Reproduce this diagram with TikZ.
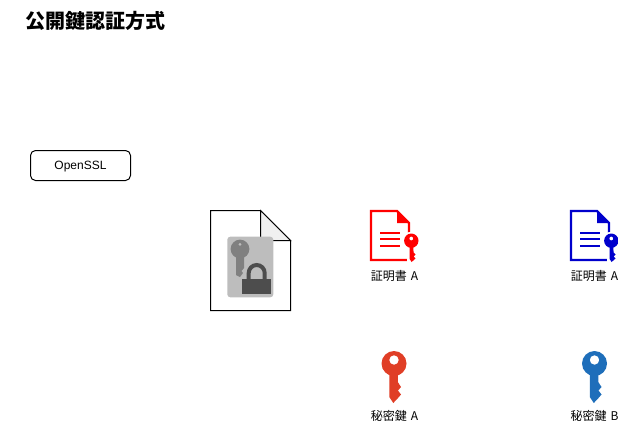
\documentclass[tikz,border=0pt]{standalone}
\usepackage{fontspec}
\setmainfont{Liberation Sans}
\newfontfamily\cjk{Noto Sans CJK JP}
\newfontfamily\cjklabel[WordSpace=1.5]{Noto Sans CJK JP}
\usepackage{xcolor}
\definecolor{keyred}{RGB}{224,62,38}
\definecolor{keyblue}{RGB}{30,110,186}
\definecolor{certblue}{RGB}{0,0,204}
\definecolor{foldgray}{RGB}{240,240,240}
\definecolor{iconback}{RGB}{189,189,189}
\definecolor{iconkey}{RGB}{128,128,128}
\definecolor{iconlock}{RGB}{77,77,77}
\tikzset{
  pics/keyicon/.style={code={
    \fill[#1,even odd rule] (0,0) circle (12.5) (0,-3.5) circle (4.8);
    \fill[#1] (-4.7,8.5) -- (-4.7,33.5) -- (-0.7,39.5) -- (4,34.5) -- (7,31) -- (4,27)
      -- (7,23.5) -- (3.8,18.5) -- (3.8,8.5) -- cycle;
  }},
  pics/certicon/.style={code={
    % page outline, origin is the top left corner
    \draw[#1,line width=2.4pt] (0,0) -- (26,0) -- (38,12) -- (38,49) -- (0,49) -- cycle;
    \fill[#1] (26,0) -- (38,12) -- (26,12) -- cycle;
    \draw[#1,line width=2.4pt] (9,22) -- (29,22);
    \draw[#1,line width=2.4pt] (9,28) -- (29,28);
    \draw[#1,line width=2.4pt] (9,35) -- (29,35);
    % small key on the corner
    \fill[white] (40.3,29.7) circle (9);
    \fill[white] (36,36) rectangle (47,53);
    \fill[#1,even odd rule] (40.3,29.7) circle (7.2) (40.3,27.5) circle (2);
    \fill[#1] (38.6,35) -- (38.6,48) -- (40.6,51) -- (44.5,47.5) -- (42.6,45.5) -- (44.5,43.5)
      -- (42.6,41.5) -- (42.2,35) -- cycle;
  }},
  labeltext/.style={font=\fontsize{12}{14}\selectfont\cjklabel,inner sep=0pt,anchor=center},
  softbox/.style={draw,rounded corners=5,line width=1pt,minimum width=100,minimum height=30,
    inner sep=0pt,text height=9pt,text depth=2pt,font=\fontsize{12}{14}\selectfont},
}
\begin{document}
\begin{tikzpicture}[x=1pt,y=-1pt]
  \useasboundingbox (0,0) rectangle (618,424);

  % title
  \node[anchor=west,inner sep=0pt,font=\fontsize{20}{24}\selectfont\cjk\bfseries] (title) at (25,21) {公開鍵認証方式};

  % tool
  \node[softbox] (openssl) at (80.5,165.5) {OpenSSL};

  % key file
  \draw[line width=1pt] (210.5,210.5) -- (260.5,210.5) -- (290.5,240.5) -- (290.5,310.5) -- (210.5,310.5) -- cycle;
  \draw[line width=1pt,fill=foldgray] (260.5,210.5) -- (290.5,240.5) -- (260.5,240.5) -- cycle;
  \fill[iconback,rounded corners=3] (227.3,236.7) rectangle (273.3,297.3);
  \fill[iconkey,even odd rule] (240,249) circle (9.4) (240,244.3) circle (1.7);
  \fill[iconkey] (236,255) -- (236,275) -- (240,277) -- (243,273) -- (241.5,271) -- (244,268) -- (244,255) -- cycle;
  \fill[iconlock] (242.3,279) rectangle (270.7,294);
  \draw[iconlock,line width=4pt] (248.7,280) -- (248.7,273) arc (180:360:8) -- (264.7,280);

  % certificates
  \pic at (371,211) {certicon=red};
  \node[labeltext] (certa) at (394.5,276) {証明書 A};
  \pic at (571,211) {certicon=certblue};
  \node[labeltext] (certb) at (594.5,276) {証明書 A};

  % private keys
  \pic at (394,363.5) {keyicon=keyred};
  \node[labeltext] (keya) at (394.5,416) {秘密鍵 A};
  \pic at (594.5,363.5) {keyicon=keyblue};
  \node[labeltext] (keyb) at (594.5,416) {秘密鍵 B};
\end{tikzpicture}
\end{document}
